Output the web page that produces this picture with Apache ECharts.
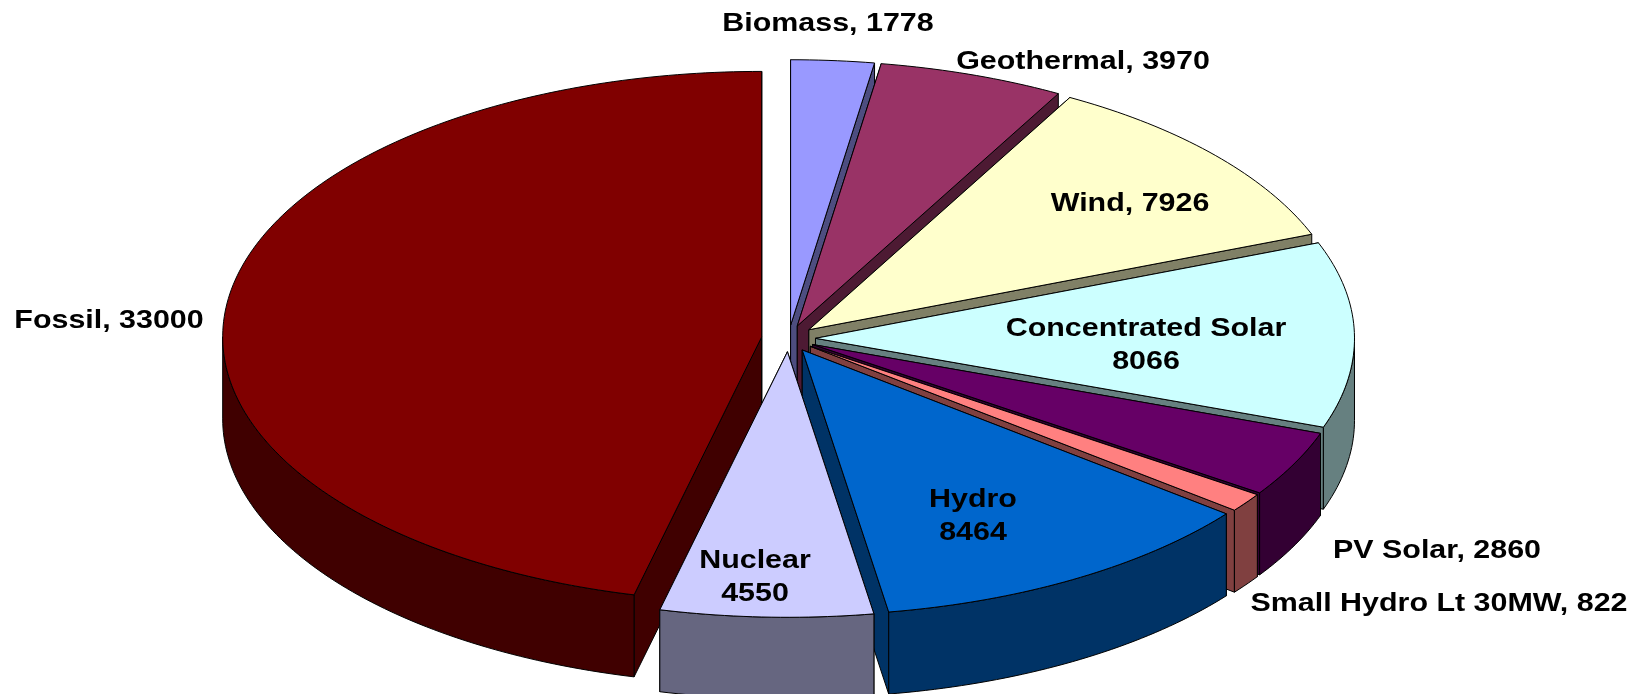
<!DOCTYPE html>
<html>
<head>
<meta charset="utf-8">
<title>Capacity by source</title>
<style>
html,body{margin:0;padding:0;background:#fff}
#main{width:1644px;height:694px}
</style>
<script src="https://cdn.jsdelivr.net/npm/echarts@6/dist/echarts.min.js"></script>
</head>
<body>
<div id="main"></div>
<script>
// clockwise from 12 o'clock, same order as the source chart
var categories=['Biomass','Geothermal','Wind','Concentrated Solar','PV Solar','Small Hydro Lt 30MW','Hydro','Nuclear','Fossil'];
var values=[1778,3970,7926,8066,2860,822,8464,4550,33000];
var topColors=['#9999FF','#993366','#FFFFCC','#CCFFFF','#660066','#FF8080','#0066CC','#CCCCFF','#800000'];
var sideColors=['#4D4D80','#4D1A33','#808066','#668080','#330033','#804040','#003366','#666680','#400000'];
// back to front, so nearer slices cover the ones behind
var paintOrder=[0,1,2,8,3,4,5,6,7];
// label text layout: some go on two lines, like the original
var labelTexts=['Biomass, 1778','Geothermal, 3970','Wind, 7926','Concentrated Solar\n8066','PV Solar, 2860','Small Hydro Lt 30MW, 822','Hydro\n8464','Nuclear\n4550','Fossil, 33000'];
var labelPos=[[828,24],[1083,62],[1130,204],[1146,345],[1437,551],[1439,604],[973,516],[755,577],[109,321]];

var cx=788.5,cy=338.5,rx=539,ry=265.5,explode=27,depth=82;
var total=0;
for(var i=0;i<values.length;i++){total+=values[i]}
var startAngles=[],acc=0;
for(var i=0;i<values.length;i++){
	startAngles.push(acc/total*360);
	acc+=values[i];
}
function rad(d){return d*Math.PI/180}
function pt(c,a,down){
	return [c[0]+rx*Math.sin(rad(a)),c[1]-ry*Math.cos(rad(a))+(down||0)];
}
function arc(c,a0,a1,down){
	var pts=[],n=Math.max(2,Math.ceil((a1-a0)/1));
	for(var k=0;k<=n;k++){pts.push(pt(c,a0+(a1-a0)*k/n,down))}
	return pts;
}
var lineStyle={stroke:'#000',lineWidth:1,lineJoin:'round'};
function poly(points,fill,z){
	return {type:'polygon',z2:z,shape:{points:points},style:{fill:fill,stroke:lineStyle.stroke,lineWidth:lineStyle.lineWidth,lineJoin:lineStyle.lineJoin}};
}
function renderSlice(params,api){
	var idx=api.value(0),val=api.value(1);
	var a0=startAngles[idx],a1=a0+val/total*360,mid=(a0+a1)/2;
	var c=[cx+explode*Math.sin(rad(mid)),cy-explode*ry/rx*Math.cos(rad(mid))];
	var rank=paintOrder.indexOf(idx)*10,kids=[],side=sideColors[idx];
	// the two cut faces
	kids.push(poly([c,pt(c,a0),pt(c,a0,depth),[c[0],c[1]+depth]],side,rank));
	kids.push(poly([c,pt(c,a1),pt(c,a1,depth),[c[0],c[1]+depth]],side,rank+1));
	// rim, only the part facing the viewer
	var f0=Math.max(a0,90),f1=Math.min(a1,270);
	if(f1>f0){
		kids.push(poly(arc(c,f0,f1,0).concat(arc(c,f0,f1,depth).reverse()),side,rank+2));
	}
	kids.push(poly([c].concat(arc(c,a0,a1,0)),topColors[idx],rank+3));
	// the original text is wider than plain Liberation bold, hence scaleX
	kids.push({
		type:'text',z2:500,x:labelPos[idx][0],y:labelPos[idx][1],scaleX:1.17,
		style:{text:labelTexts[idx],x:0,y:0,fill:'#000',
			fontFamily:'Liberation Sans',fontWeight:'bold',fontSize:26,lineHeight:33,
			align:'center',verticalAlign:'middle'}
	});
	return {type:'group',children:kids};
}
var seriesData=[];
for(var i=0;i<values.length;i++){seriesData.push([i,values[i],categories[i]])}
var myChart=echarts.init(document.getElementById('main'));
myChart.setOption({
	animation:false,
	backgroundColor:'#fff',
	series:[{type:'custom',coordinateSystem:'none',renderItem:renderSlice,data:seriesData,silent:true}]
});
</script>
</body>
</html>
